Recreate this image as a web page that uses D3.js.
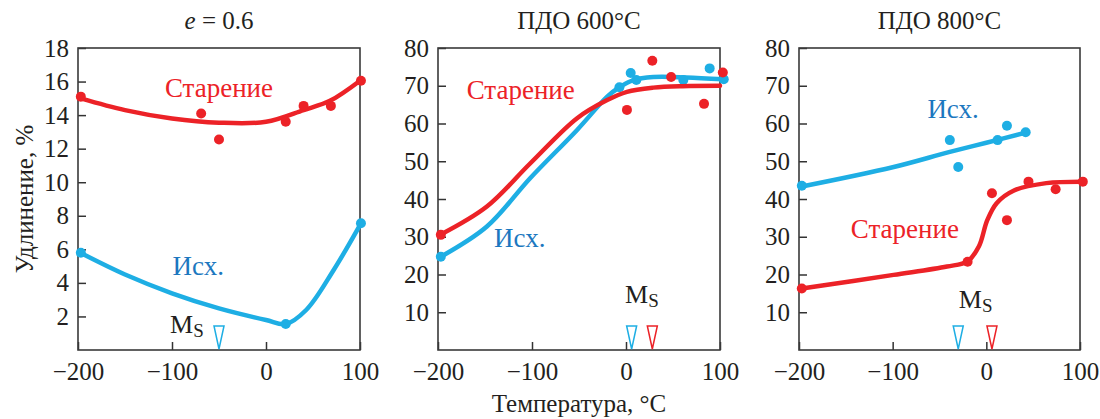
<!DOCTYPE html>
<html>
<head>
<meta charset="utf-8">
<script src="https://cdn.jsdelivr.net/npm/d3@7"></script>
<style>
  body { margin: 0; background: #fff; }
  svg text { font-family: "Liberation Serif", "Times New Roman", serif; fill: #231f20; }
</style>
</head>
<body>
<svg class="chart" width="1100" height="419"></svg>
<script>
// ---- data (temperature, elongation %) ----
var tempTicks = [-200, -100, 0, 100];
var e06Ticks = [2, 4, 6, 8, 10, 12, 14, 16, 18];
var pdoTicks = [10, 20, 30, 40, 50, 60, 70, 80];

// panel 1: e = 0.6
var e06AgedPts = [[-197, 15.1], [-69, 14.1], [-50, 12.55], [21, 13.6], [40, 14.55], [69, 14.55], [101, 16.05]];
var e06AgedFit = [[-197, 15.0], [-150, 14.3], [-100, 13.8], [-50, 13.55], [0, 13.6], [40, 14.3], [68, 14.85], [100, 16.05]];
var e06InitPts = [[-197, 5.8], [21, 1.55], [101, 7.55]];
var e06InitFit = [[-197, 5.78], [-150, 4.5], [-100, 3.38], [-50, 2.48], [0, 1.79], [21, 1.55], [43, 2.4], [72, 4.77], [101, 7.55]];
var e06Ms = [-50];

// panel 2: ПДО 600°C
var p600AgedPts = [[-197, 30.5], [1, 63.6], [28, 76.6], [48, 72.3], [83, 65.2], [103, 73.5]];
var p600AgedFit = [[-197, 30.6], [-148, 38.0], [-102, 49.4], [-52, 61.4], [-20, 66.2], [1, 68.4], [29, 69.5], [60, 69.9], [100, 70.0]];
var p600InitPts = [[-197, 24.7], [-7, 69.6], [5, 73.4], [11, 71.5], [61, 71.5], [89, 74.6], [104, 71.7]];
var p600InitFit = [[-197, 24.7], [-148, 32.7], [-102, 45.5], [-52, 58.3], [-20, 67.1], [-7, 69.6], [8, 71.5], [29, 72.3], [64, 72.2], [103, 71.7]];
var p600Ms = [6, 28];

// panel 3: ПДО 800°C
var p800AgedPts = [[-197, 16.3], [-20, 23.4], [6, 41.5], [22, 34.4], [45, 44.6], [74, 42.6], [103, 44.6]];
var p800AgedFit = [[-197, 16.3], [-99, 19.9], [-42, 22.1], [-20, 23.5], [-8, 27.4], [1, 34.4], [11, 38.9], [29, 42.2], [64, 44.2], [103, 44.6]];
var p800InitPts = [[-197, 43.5], [-39, 55.6], [-30, 48.5], [12, 55.6], [22, 59.4], [42, 57.7]];
var p800InitFit = [[-197, 43.3], [-100, 48.4], [-40, 52.4], [0, 54.9], [42, 57.6]];
var p800Ms = [-30, 6];

var red = "#ec2227", blue = "#1eaee4", blueText = "#1c78bf";

var panels = [
  { x0: 78, x1: 360, yMax: 18, yTicks: e06Ticks, title: "e06",
    aged: e06AgedPts, agedFit: e06AgedFit, init: e06InitPts, initFit: e06InitFit,
    ms: e06Ms, msColors: [blue],
    agedLabel: [-50, 15.08], initLabel: [-72, 4.47], msLabel: [-102, 1.0] },
  { x0: 438, x1: 720, yMax: 80, yTicks: pdoTicks, title: "ПДО 600°C",
    aged: p600AgedPts, agedFit: p600AgedFit, init: p600InitPts, initFit: p600InitFit,
    ms: p600Ms, msColors: [blue, red],
    agedLabel: [-112, 66.4], initLabel: [-113, 27.4], msLabel: [-1, 12.4] },
  { x0: 799, x1: 1080, yMax: 80, yTicks: pdoTicks, title: "ПДО 800°C",
    aged: p800AgedPts, agedFit: p800AgedFit, init: p800InitPts, initFit: p800InitFit,
    ms: p800Ms, msColors: [blue, red],
    agedLabel: [-87, 29.6], initLabel: [-35.5, 61.4], msLabel: [-29.4, 11.1] }
];

var svg = d3.select("svg.chart");
var yTop = 48, yBot = 350;

panels.forEach(function(p) {
  var x = d3.scaleLinear().domain([-200, 100]).range([p.x0, p.x1]);
  var y = d3.scaleLinear().domain([0, p.yMax]).range([yBot, yTop]);
  var g = svg.append("g");

  // axes, ticks pointing inward
  var xAxis = d3.axisBottom(x).tickValues(tempTicks).tickSizeInner(-8).tickSizeOuter(0).tickPadding(12)
    .tickFormat(function(d) { return d < 0 ? "\u2212" + Math.abs(d) : d; });
  var yAxis = d3.axisLeft(y).tickValues(p.yTicks).tickSizeInner(-8).tickSizeOuter(0).tickPadding(9);

  var gx = g.append("g").attr("transform", "translate(0," + yBot + ")").call(xAxis);
  var gy = g.append("g").attr("transform", "translate(" + p.x0 + ",0)").call(yAxis);
  [gx, gy].forEach(function(a) {
    a.select(".domain").remove();
    a.selectAll("line").attr("stroke", "#333").attr("stroke-width", 1.5);
    a.selectAll("text").style("font-size", "25px").style("fill", "#231f20");
  });

  g.append("rect")
    .attr("x", p.x0).attr("y", yTop)
    .attr("width", p.x1 - p.x0).attr("height", yBot - yTop)
    .attr("fill", "none").attr("stroke", "#3a3a3a").attr("stroke-width", 1.6);

  // title
  var cx = (p.x0 + p.x1) / 2;
  var t = g.append("text").attr("x", cx).attr("y", 29).attr("text-anchor", "middle").style("font-size", "25px");
  if (p.title === "e06") {
    t.append("tspan").style("font-style", "italic").text("e");
    t.append("tspan").text(" = 0.6");
  } else {
    t.text(p.title);
  }

  var line = d3.line()
    .x(function(d) { return x(d[0]); })
    .y(function(d) { return y(d[1]); })
    .curve(d3.curveCatmullRom.alpha(0.5));

  // Ms markers
  p.ms.forEach(function(m, i) {
    var mx = x(m);
    g.append("path")
      .attr("d", "M" + (mx - 5) + "," + 326 + "L" + (mx + 5) + "," + 326 + "L" + mx + "," + 349 + "Z")
      .attr("fill", "none").attr("stroke", p.msColors[i]).attr("stroke-width", 1.5);
  });
  var ms = g.append("text").attr("x", x(p.msLabel[0])).attr("y", y(p.msLabel[1])).style("font-size", "26px");
  ms.append("tspan").text("M");
  ms.append("tspan").attr("dy", 4).style("font-size", "19px").text("S");

  // series
  [[p.initFit, p.init, blue], [p.agedFit, p.aged, red]].forEach(function(s) {
    g.append("path").datum(s[0])
      .attr("d", line)
      .attr("fill", "none").attr("stroke", s[2]).attr("stroke-width", 4.5)
      .attr("stroke-linecap", "round");
    g.selectAll(null).data(s[1]).enter().append("circle")
      .attr("cx", function(d) { return x(d[0]); })
      .attr("cy", function(d) { return y(d[1]); })
      .attr("r", 5)
      .attr("fill", s[2]);
  });

  g.append("text").attr("x", x(p.agedLabel[0])).attr("y", y(p.agedLabel[1]))
    .attr("text-anchor", "middle").style("font-size", "27px").style("fill", red).text("Старение");
  g.append("text").attr("x", x(p.initLabel[0])).attr("y", y(p.initLabel[1]))
    .attr("text-anchor", "middle").style("font-size", "27px").style("fill", blueText).text("Исх.");
});

// axis titles
svg.append("text")
  .attr("transform", "translate(33,199) rotate(-90)")
  .attr("text-anchor", "middle").style("font-size", "25px")
  .text("Удлинение, %");
svg.append("text")
  .attr("x", 579).attr("y", 412)
  .attr("text-anchor", "middle").style("font-size", "25px")
  .text("Температура, °C");
</script>
</body>
</html>
